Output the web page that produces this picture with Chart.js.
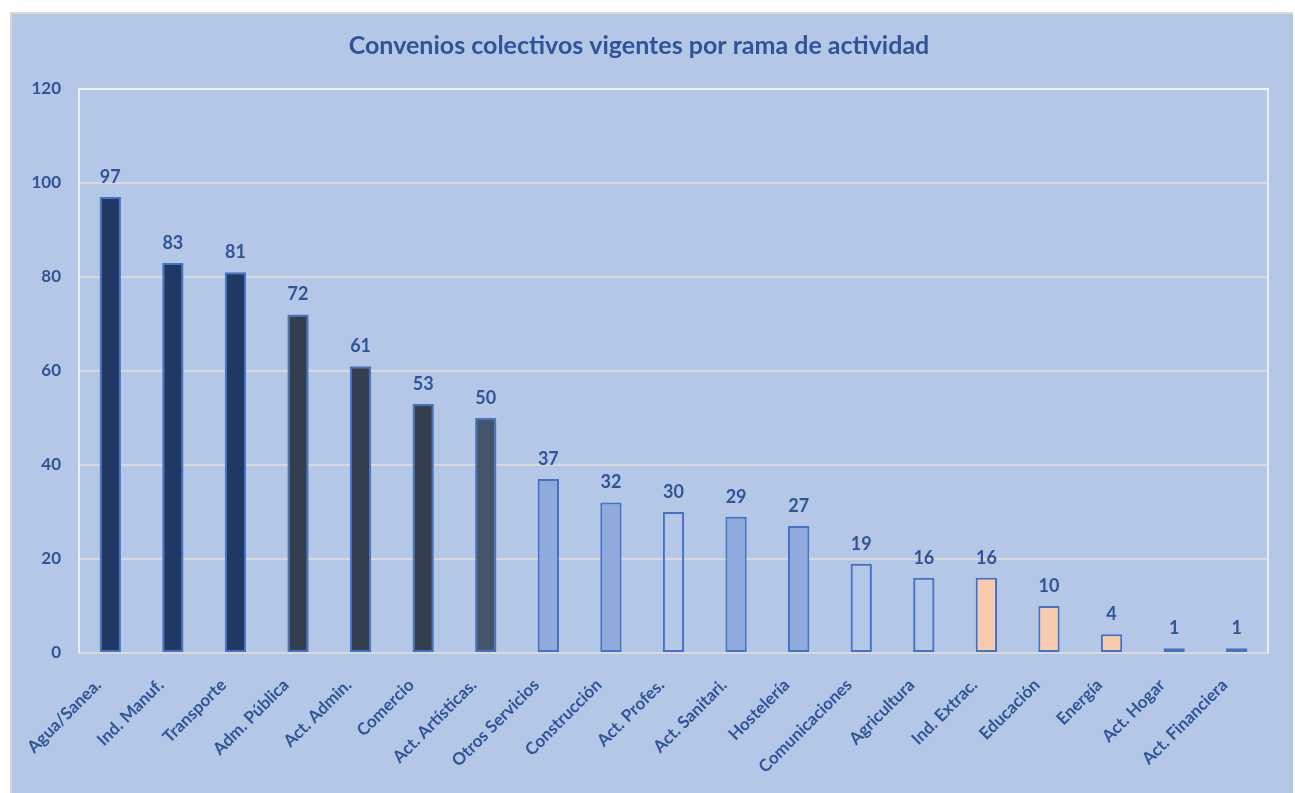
<!DOCTYPE html>
<html>
<head>
<meta charset="utf-8">
<script src="https://cdn.jsdelivr.net/npm/chart.js@4"></script>
<style>
  html, body { margin: 0; padding: 0; background: #fff; overflow: hidden; }
  #frame {
    position: absolute; left: 10px; top: 12px;
    width: 1283px; height: 781px;
    background: #b4c7e7;
    border-left: 2px solid #d9d9d9; border-top: 2px solid #d9d9d9;
    box-sizing: border-box;
  }
  #wrap { position: absolute; left: -2px; top: -2px; width: 1283px; height: 781px; }
</style>
</head>
<body>
<div id="frame"><div id="wrap"><canvas id="convChart"></canvas></div></div>
<script>
const titleText = 'Convenios colectivos vigentes por rama de actividad';
const categories = ['Agua/Sanea.', 'Ind. Manuf.', 'Transporte', 'Adm. Pública', 'Act. Admin.', 'Comercio',
    'Act. Artísticas.', 'Otros Servicios', 'Construcción', 'Act. Profes.', 'Act. Sanitari.', 'Hostelería',
    'Comunicaciones', 'Agricultura', 'Ind. Extrac.', 'Educación', 'Energía', 'Act. Hogar', 'Act. Financiera'];
const convenios = [97, 83, 81, 72, 61, 53, 50, 37, 32, 30, 29, 27, 19, 16, 16, 10, 4, 1, 1];
const yTicks = [0, 20, 40, 60, 80, 100, 120];

// bar fill colours, one per category
const fillColors = ['#1f3864', '#1f3864', '#1f3864', '#333f50', '#333f50', '#333f50', '#44546a',
    '#8faadc', '#8faadc', 'rgba(0,0,0,0)', '#8faadc', '#8faadc', 'rgba(0,0,0,0)', 'rgba(0,0,0,0)',
    '#f8cbad', '#f8cbad', '#f8cbad', '#dae3f3', '#4472c4'];

const textBlue = '#2f5597';
const fontFam = 'Lato, "Open Sans", sans-serif';

// value labels above each bar
const valueLabels = {
    id: 'valueLabels',
    afterDatasetsDraw(chart) {
        const ctx = chart.ctx;
        const meta = chart.getDatasetMeta(0);
        ctx.save();
        ctx.fillStyle = textBlue;
        ctx.font = 'bold 18px ' + fontFam;
        ctx.textAlign = 'center';
        ctx.textBaseline = 'bottom';
        meta.data.forEach((bar, i) => {
            ctx.fillText(convenios[i], bar.x, bar.y - 11);
        });
        ctx.restore();
    }
};

// light frame round the plot area
const plotFrame = {
    id: 'plotFrame',
    beforeDatasetsDraw(chart) {
        const a = chart.chartArea;
        const ctx = chart.ctx;
        ctx.save();
        ctx.strokeStyle = 'rgba(240,244,250,0.85)';
        ctx.lineWidth = 2;
        ctx.beginPath();
        ctx.moveTo(a.left, a.bottom);
        ctx.lineTo(a.left, a.top);
        ctx.lineTo(a.right, a.top);
        ctx.lineTo(a.right, a.bottom);
        ctx.stroke();
        ctx.restore();
    }
};

new Chart(document.getElementById('convChart').getContext('2d'), {
    type: 'bar',
    data: {
        labels: categories,
        datasets: [{
            data: convenios,
            backgroundColor: fillColors,
            borderColor: '#4472c4',
            borderWidth: 2,
            borderSkipped: false,
            barPercentage: 0.34,
            categoryPercentage: 1.0
        }]
    },
    options: {
        responsive: true,
        maintainAspectRatio: false,
        animation: false,
        layout: { padding: { left: 0, right: 25, top: 0, bottom: 0 } },
        plugins: {
            legend: { display: false },
            tooltip: { enabled: false },
            title: {
                display: true,
                text: titleText,
                color: textBlue,
                font: { family: fontFam, size: 25, weight: 'bold' },
                padding: { top: 19, bottom: 28 }
            }
        },
        scales: {
            x: {
                grid: { display: false },
                border: { display: true, color: '#d9d9d9', width: 2 },
                ticks: {
                    color: textBlue,
                    font: { family: fontFam, size: 17, weight: 'bold' },
                    minRotation: 45,
                    maxRotation: 45,
                    autoSkip: false,
                    padding: 14,
                    labelOffset: -12
                },
                afterFit(scale) { scale.height = 140; }
            },
            y: {
                min: 0,
                max: 120,
                afterBuildTicks(scale) { scale.ticks = yTicks.map(v => ({ value: v })); },
                grid: {
                    color: ctx => ctx.tick && ctx.tick.value === 120 ? 'rgba(240,244,250,0.85)' : '#d9d9d9',
                    lineWidth: 2,
                    drawTicks: false
                },
                border: { display: false },
                ticks: {
                    color: textBlue,
                    font: { family: fontFam, size: 17, weight: 'bold' },
                    padding: 18
                },
                afterFit(scale) { scale.width = 69; }
            }
        }
    },
    plugins: [plotFrame, valueLabels]
});
</script>
</body>
</html>
